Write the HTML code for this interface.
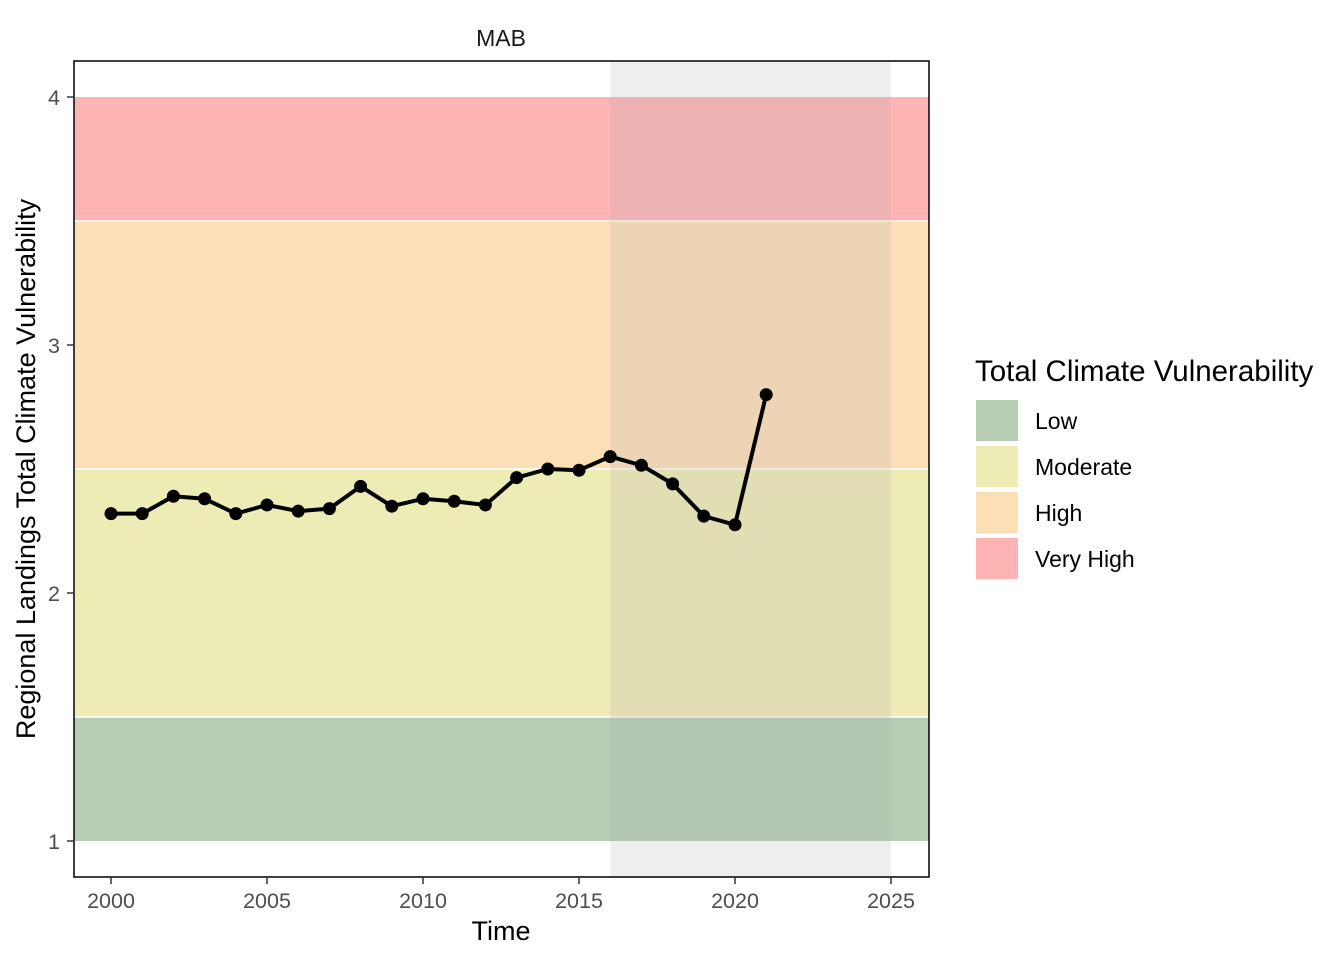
<!DOCTYPE html>
<html><head><meta charset="utf-8"><style>
body{margin:0;background:#fff;}
svg text{font-family:"Liberation Sans",Arial,sans-serif;}
</style></head><body>
<svg id="chart" width="1344" height="960" viewBox="0 0 1344 960" xmlns="http://www.w3.org/2000/svg">
<text x="501" y="46" font-size="23" text-anchor="middle" fill="#1a1a1a">MAB</text>
<g id="bands"></g>
<rect id="shade" fill="rgb(170,170,170)" fill-opacity="0.2"></rect>
<g id="marks"></g>
<rect x="74" y="61" width="855" height="816" fill="none" stroke="#000" stroke-width="1.5"></rect>
<g id="axes"></g>
<text x="501" y="940" font-size="27" text-anchor="middle" fill="#000">Time</text>
<text transform="translate(35,469) rotate(-90)" font-size="27" text-anchor="middle" fill="#000">Regional Landings Total Climate Vulnerability</text>
<g>
<text x="975" y="381" font-size="29.5" fill="#000">Total Climate Vulnerability</text>
<rect x="976" y="400" width="42" height="41" fill="#b6cdb3"/>
<text x="1035" y="429" font-size="23">Low</text>
<rect x="976" y="446" width="42" height="41" fill="#eeecb5"/>
<text x="1035" y="475" font-size="23">Moderate</text>
<rect x="976" y="492" width="42" height="41" fill="#fddfb7"/>
<text x="1035" y="521" font-size="23">High</text>
<rect x="976" y="538" width="42" height="41" fill="#ffb4b4"/>
<text x="1035" y="567" font-size="23">Very High</text>
</g>
</svg>
<script>
const years=[2000,2001,2002,2003,2004,2005,2006,2007,2008,2009,2010,2011,2012,2013,2014,2015,2016,2017,2018,2019,2020,2021];
const values=[2.32,2.32,2.39,2.38,2.32,2.355,2.33,2.34,2.43,2.35,2.38,2.37,2.355,2.465,2.5,2.495,2.55,2.515,2.44,2.31,2.275,2.8];
const xTicks=[2000,2005,2010,2015,2020,2025];
const yTicks=[1,2,3,4];
const bandLow=[1,1.5,2.5,3.5];
const bandHigh=[1.5,2.5,3.5,4];
const bandNames=['low','moderate','high','very-high'];
const bandColors=['#b6cdb3','#eeecb5','#fddfb7','#ffb4b4'];
const shadeRange=[2016,2025];
const ns='http://www.w3.org/2000/svg';
const X=v=>111+(v-2000)*31.2;
const Y=v=>841-(v-1)*248;
function mk(t,a,p){const e=document.createElementNS(ns,t);for(const k in a)e.setAttribute(k,a[k]);p.appendChild(e);return e;}
const bands=document.getElementById('bands');
bandLow.forEach((lo,i)=>{
 const r=mk('rect',{x:74,y:Y(bandHigh[i]),width:855,height:Y(lo)-Y(bandHigh[i]),fill:bandColors[i]},bands);
 
 
});
bandLow.slice(1).forEach(v=>{
 const l=mk('line',{x1:74,x2:929,y1:Y(v),y2:Y(v),stroke:'#fff','stroke-width':1.5},bands);
 
 
});
const sh=document.getElementById('shade');
sh.setAttribute('x',X(shadeRange[0]));sh.setAttribute('y',61);
sh.setAttribute('width',X(shadeRange[1])-X(shadeRange[0]));sh.setAttribute('height',816);
const marks=document.getElementById('marks');
const line=mk('polyline',{points:years.map((y,i)=>X(y)+','+Y(values[i])).join(' '),fill:'none',stroke:'#000','stroke-width':4,'stroke-linejoin':'round'},marks);


years.forEach((y,i)=>{
 const c=mk('circle',{cx:X(y),cy:Y(values[i]),r:6.5,fill:'#000'},marks);
 
 
});
const axes=document.getElementById('axes');
xTicks.forEach(t=>{
 const l=mk('line',{x1:X(t),x2:X(t),y1:877,y2:884,stroke:'#333','stroke-width':1.5},axes);
 
 
 const tx=mk('text',{x:X(t),y:908,'font-size':21.5,'text-anchor':'middle',fill:'#4d4d4d'},axes);
 tx.textContent=t;
 
 
});
yTicks.forEach(t=>{
 const l=mk('line',{x1:67,x2:74,y1:Y(t),y2:Y(t),stroke:'#333','stroke-width':1.5},axes);
 
 
 const tx=mk('text',{x:60,y:Y(t)+8,'font-size':21.5,'text-anchor':'end',fill:'#4d4d4d'},axes);
 tx.textContent=t;
 
 
});
</script>
</body></html>
